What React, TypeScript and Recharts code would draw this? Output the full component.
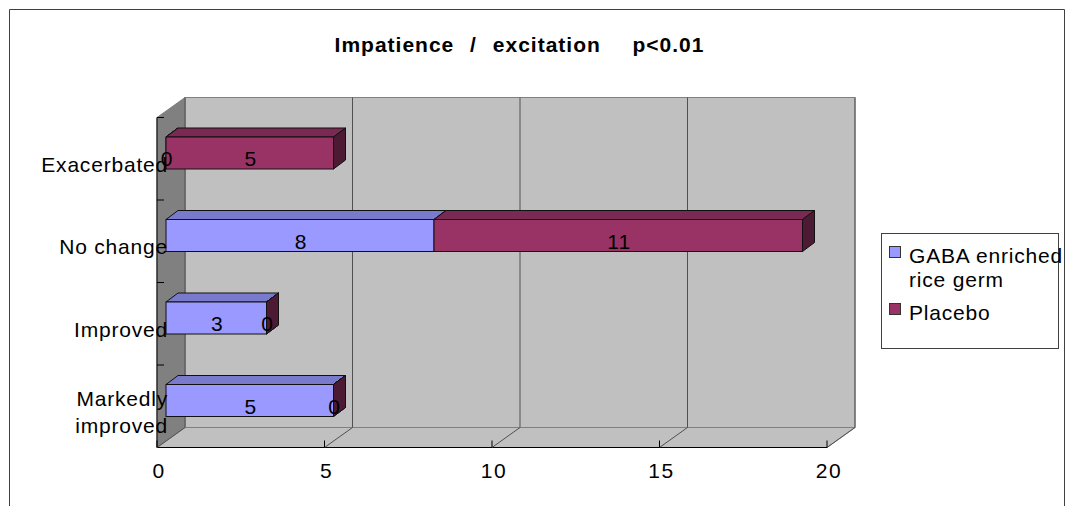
import React from 'react';
import { BarChart, Bar, XAxis, YAxis, CartesianGrid, ReferenceArea, LabelList } from 'recharts';

// chart values
const CATEGORIES = ['Exacerbated', 'No change', 'Improved', 'Markedly improved'];
const GABA_VALUES = [0, 8, 3, 5];
const PLACEBO_VALUES = [5, 11, 0, 0];
const X_TICKS = [0, 5, 10, 15, 20];
const SERIES_NAMES = ['GABA enriched rice germ', 'Placebo'];
const TITLE = 'Impatience / excitation  p<0.01';

const data = CATEGORIES.map((name, i) => ({ name, gaba: GABA_VALUES[i], placebo: PLACEBO_VALUES[i] }));

const FONT = '"Liberation Sans", Arial, sans-serif';
const GABA_COLORS = { front: '#9999ff', top: '#7a7acc', side: '#5c5c99' };
const PLACEBO_COLORS = { front: '#993366', top: '#7a2952', side: '#4d1a33' };
const SERIES_COLORS = [GABA_COLORS.front, PLACEBO_COLORS.front];

// fake 3D: offsets of the front plane and back wall relative to the bar plane
const FRONT = { dx: -9, dy: 5.5 };
const BACK = { dx: 19, dy: -14.5 };
const DEPTH = { dx: 12, dy: 9 };

const pts = (a: number[][]) => a.map((p) => p.join(',')).join(' ');

const wrap = (text: string, max: number) => {
  const lines: string[] = [];
  let cur = '';
  text.split(' ').forEach((w) => {
    if (cur && (cur + ' ' + w).length > max) {
      lines.push(cur);
      cur = w;
    } else cur = cur ? cur + ' ' + w : w;
  });
  if (cur) lines.push(cur);
  return lines;
};

const Walls = (props: any) => {
  const { x, y, width: w, height: h } = props;
  const fx = x + FRONT.dx, fy = y + FRONT.dy, fb = y + h + FRONT.dy;
  const bx = x + BACK.dx, by = y + BACK.dy, bb = y + h + BACK.dy;
  const n = CATEGORIES.length;
  return (
    <g>
      <rect x={bx} y={by} width={w} height={h} fill="#c0c0c0" stroke="#808080" />
      <polygon points={pts([[fx, fy], [bx, by], [bx, bb], [fx, fb]])} fill="#808080" stroke="#808080" />
      <polygon points={pts([[fx, fb], [fx + w, fb], [bx + w, bb], [bx, bb]])} fill="#c0c0c0" stroke="#808080" />
      <line x1={fx} y1={fy} x2={fx} y2={fb} stroke="#000" />
      <line x1={fx} y1={fb} x2={fx + w} y2={fb} stroke="#000" />
      {Array.from({ length: n + 1 }, (_, k) => (
        <line key={k} x1={fx} x2={fx + 7} y1={fy + (h * k) / n} y2={fy + (h * k) / n} stroke="#000" />
      ))}
    </g>
  );
};

const GridLine = (props: any) => {
  const { x1, y1, y2 } = props;
  return (
    <g key={`grid-${x1}`}>
      <line x1={x1 + BACK.dx} y1={y1 + BACK.dy} x2={x1 + BACK.dx} y2={y2 + BACK.dy} stroke="#505050" />
      <line x1={x1 + FRONT.dx} y1={y2 + FRONT.dy} x2={x1 + BACK.dx} y2={y2 + BACK.dy} stroke="#505050" />
    </g>
  );
};

const makeBox = (c: { front: string; top: string; side: string }) => (props: any) => {
  const { x, y, width, height } = props;
  if (x == null || y == null) return <g />;
  const w = width || 0;
  return (
    <g>
      <polygon
        points={pts([[x, y], [x + DEPTH.dx, y - DEPTH.dy], [x + w + DEPTH.dx, y - DEPTH.dy], [x + w, y]])}
        fill={c.top}
        stroke="#111"
      />
      <polygon
        points={pts([[x + w, y], [x + w + DEPTH.dx, y - DEPTH.dy], [x + w + DEPTH.dx, y + height - DEPTH.dy], [x + w, y + height]])}
        fill={c.side}
        stroke="#111"
      />
      {w > 0 && <rect x={x} y={y} width={w} height={height} fill={c.front} stroke="#111" />}
    </g>
  );
};

const GabaBox = makeBox(GABA_COLORS);
const PlaceboBox = makeBox(PLACEBO_COLORS);

const ValueLabel = (props: any) => {
  const { x, y, width, height, value } = props;
  return (
    <text x={x + (width || 0) / 2 + 1} y={y + height / 2 + 13} textAnchor="middle" fontFamily={FONT} fontSize={21} letterSpacing={1} fill="#000">
      {value}
    </text>
  );
};

const XTick = (props: any) => {
  const { x, y, payload } = props;
  const fx = x + FRONT.dx, fy = y + FRONT.dy;
  return (
    <g>
      <line x1={fx} y1={fy} x2={fx} y2={fy - 7} stroke="#000" />
      <text x={fx + 2} y={fy + 30.5} textAnchor="middle" fontFamily={FONT} fontSize={21} letterSpacing={1.5} fill="#000">
        {payload.value}
      </text>
    </g>
  );
};

const YTick = (props: any) => {
  const { x, y, payload } = props;
  const lines = wrap(String(payload.value), 11);
  const lh = 27;
  const first = y + 18.5 - ((lines.length - 1) * lh) / 2;
  return (
    <text textAnchor="end" fontFamily={FONT} fontSize={21} letterSpacing={0.8} fill="#000">
      {lines.map((l, i) => (
        <tspan key={i} x={x + 2} y={first + i * lh}>{l}</tspan>
      ))}
    </text>
  );
};

// legend box, drawn over the chart (same look as the Excel legend)
const LegendBox = ({ left, top }: { left: number; top: number }) => {
  let base = top + 30;
  return (
    <g>
      <rect x={left + 0.5} y={top + 0.5} width={177} height={115} fill="#fff" stroke="#404040" />
      {SERIES_NAMES.map((name, i) => {
        const lines = wrap(name, 13);
        const b = base;
        base += lines.length * 24 + 9;
        return (
          <g key={name}>
            <rect x={left + 8.5} y={b - 16.5} width={11} height={11} fill={SERIES_COLORS[i]} stroke="#333" />
            <text fontFamily={FONT} fontSize={21} letterSpacing={0.8} fill="#000">
              {lines.map((l, j) => (
                <tspan key={j} x={left + 28} y={b + j * 24}>{l}</tspan>
              ))}
            </text>
          </g>
        );
      })}
    </g>
  );
};

export default function App() {
  return (
    <div style={{ position: 'absolute', left: 0, top: 0, width: 1066, height: 506, background: '#fff', overflow: 'hidden' }}>
      <div style={{ position: 'absolute', left: 0, top: 0 }}>
        <BarChart
          width={1066}
          height={506}
          layout="vertical"
          data={data}
          margin={{ top: 112, right: 230, bottom: 24, left: 46 }}
          barSize={32}
        >
          <ReferenceArea x1={0} x2={20} shape={Walls} ifOverflow="visible" zIndex={-150} />
          <CartesianGrid horizontal={false} vertical={GridLine} />
          <XAxis
            type="number"
            domain={[0, 20]}
            ticks={X_TICKS}
            interval={0}
            height={40}
            axisLine={false}
            tickLine={false}
            tickSize={0}
            tickMargin={0}
            tick={XTick}
          />
          <YAxis
            type="category"
            dataKey="name"
            width={120}
            axisLine={false}
            tickLine={false}
            tickSize={0}
            tickMargin={0}
            tick={YTick}
            interval={0}
          />
          <Bar dataKey="gaba" name={SERIES_NAMES[0]} stackId="a" fill={GABA_COLORS.front} shape={GabaBox} isAnimationActive={false}>
            <LabelList dataKey="gaba" content={ValueLabel} />
          </Bar>
          <Bar dataKey="placebo" name={SERIES_NAMES[1]} stackId="a" fill={PLACEBO_COLORS.front} shape={PlaceboBox} isAnimationActive={false}>
            <LabelList dataKey="placebo" content={ValueLabel} />
          </Bar>
        </BarChart>
      </div>
      <svg width={1066} height={506} style={{ position: 'absolute', left: 0, top: 0, pointerEvents: 'none' }}>
        <path d="M9.5,506 V9.5 H1064.5 V506" fill="none" stroke="#404040" />
        <text
          x={519.5}
          y={51.5}
          textAnchor="middle"
          fontFamily={FONT}
          fontSize={21}
          fontWeight="bold"
          letterSpacing={1}
          wordSpacing={9}
          fill="#000"
          style={{ whiteSpace: 'pre' }}
        >
          {TITLE}
        </text>
        <LegendBox left={881} top={233} />
      </svg>
    </div>
  );
}
